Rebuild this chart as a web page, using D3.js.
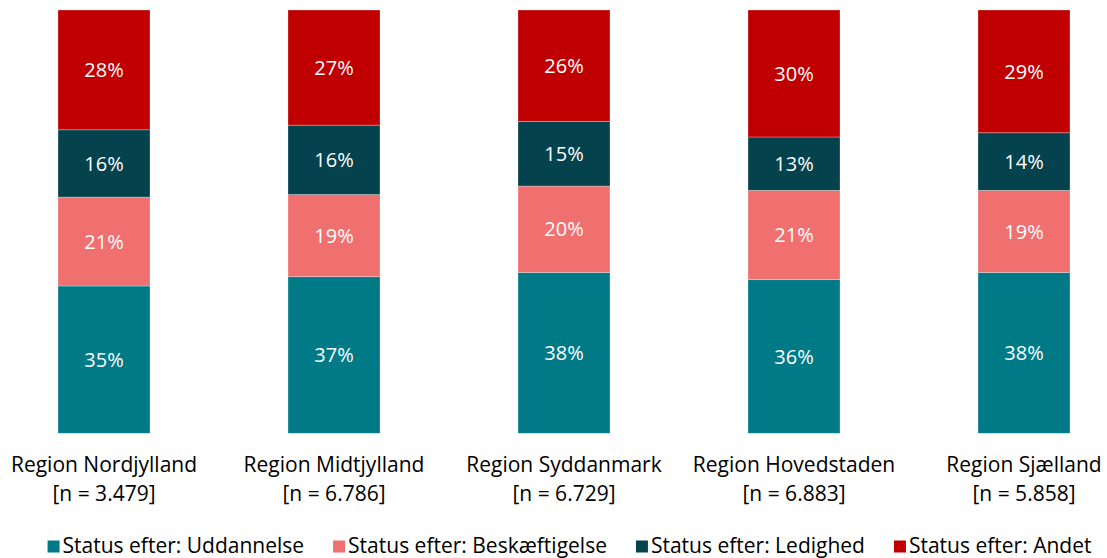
<!DOCTYPE html>
<html><head><meta charset="utf-8">
<script src="https://cdn.jsdelivr.net/npm/d3@7"></script>
<style>
html,body{margin:0;padding:0;background:#fff;}
svg text{font-family:"Open Sans",Lato,sans-serif;}
</style></head>
<body>
<svg id="c" width="1107" height="558"></svg>
<script>
const categories = ["Region Nordjylland","Region Midtjylland","Region Syddanmark","Region Hovedstaden","Region Sjælland"];
const nLabels = ["[n = 3.479]","[n = 6.786]","[n = 6.729]","[n = 6.883]","[n = 5.858]"];
const seriesNames = ["Status efter: Uddannelse","Status efter: Beskæftigelse","Status efter: Ledighed","Status efter: Andet"];
const uddannelse   = [34.8, 37.0, 38.0, 36.3, 38.0];
const beskaeftigelse = [21.0, 19.4, 20.4, 21.1, 19.4];
const ledighed     = [15.9, 16.4, 15.3, 12.6, 13.6];
const andet        = [28.3, 27.2, 26.3, 30.0, 29.0];
const colors = ["#007A87","#F07070","#04424E","#C00000"];

const series = [uddannelse, beskaeftigelse, ledighed, andet];
const rows = categories.map((c,i)=>{const o={cat:c}; seriesNames.forEach((s,j)=>o[s]=series[j][i]); return o;});
const stack = d3.stack().keys(seriesNames)(rows);

const FS = 21;
const svg = d3.select("#c");
const x = d3.scaleBand().domain(categories).range([-11,1139]).paddingInner(0.6).paddingOuter(0.3);
const y = d3.scaleLinear().domain([0,100]).range([433.3,10]);
const color = d3.scaleOrdinal().domain(seriesNames).range(colors);

const g = svg.append("g");
const layers = g.selectAll("g.layer").data(stack).join("g").attr("class","layer").attr("fill",d=>color(d.key));
layers.selectAll("rect").data(d=>d).join("rect")
  .attr("x",d=>x(d.data.cat)).attr("width",x.bandwidth())
  .attr("y",d=>y(d[1])).attr("height",d=>y(d[0])-y(d[1]))
  .attr("stroke","rgba(255,255,255,0.35)").attr("stroke-width",0.8);
layers.selectAll("text").data(d=>d).join("text")
  .attr("x",d=>x(d.data.cat)+x.bandwidth()/2)
  .attr("y",d=>(y(d[0])+y(d[1]))/2)
  .attr("dy","0.36em").attr("text-anchor","middle")
  .attr("fill","#fff").attr("font-size",20)
  .text(d=>Math.round(d[1]-d[0])+"%");

// category axis labels
const ax = svg.append("g");
categories.forEach((c,i)=>{
  const cx = x(c)+x.bandwidth()/2;
  ax.append("text").attr("x",cx).attr("y",472).attr("text-anchor","middle").attr("font-size",FS).attr("fill","#000").text(c);
  ax.append("text").attr("x",cx).attr("y",501).attr("text-anchor","middle").attr("font-size",FS).attr("fill","#000").text(nLabels[i]);
});

// legend
const lg = svg.append("g");
const items = lg.selectAll("g").data(seriesNames).join("g");
items.append("rect").attr("width",12).attr("height",12).attr("y",-12.5).attr("fill",d=>color(d));
items.append("text").attr("x",15).attr("y",0).attr("font-size",FS).attr("fill","#000").text(d=>d);
let pos = 0; const gap = 29;
const widths = [];
items.each(function(){ widths.push(this.getBBox().width); });
items.attr("transform",(d,i)=>{const t=`translate(${pos},0)`; pos+=widths[i]+gap; return t;});
const total = pos-gap;
lg.attr("transform",`translate(${569.5-total/2},553)`);
</script>
</body></html>
